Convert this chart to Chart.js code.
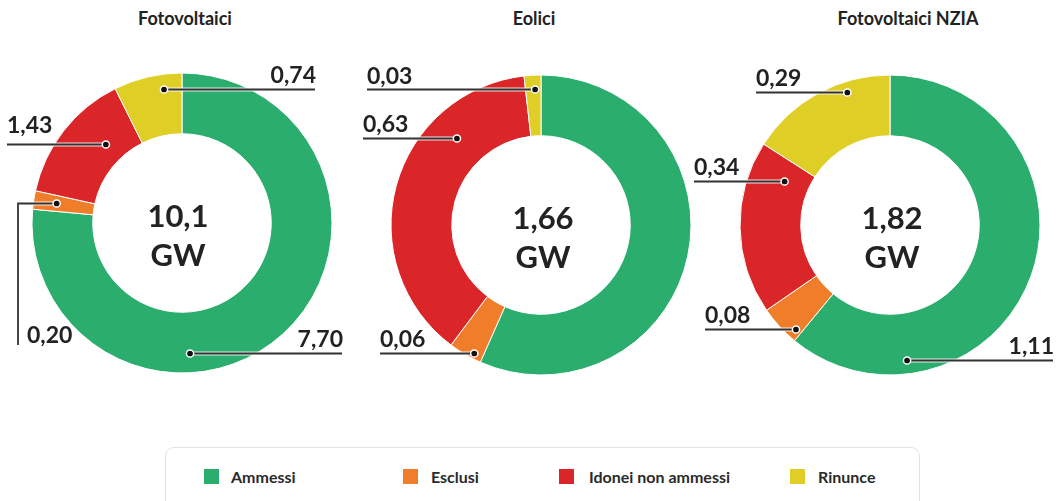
<!DOCTYPE html>
<html>
<head>
<meta charset="utf-8">
<script src="https://cdn.jsdelivr.net/npm/chart.js@4.4.1/dist/chart.umd.min.js"></script>
<style>
  html, body { margin: 0; padding: 0; background: #fff; }
  body { width: 1061px; height: 501px; position: relative; overflow: hidden; font-family: Lato, "Noto Sans", sans-serif; }
  .title { position: absolute; top: 7px; font: bold 18px Lato, sans-serif; color: #222; white-space: nowrap; transform: translateX(-50%); }
  .box { position: absolute; }
  .legend { position: absolute; left: 165px; top: 447px; width: 755px; height: 80px; border: 1px solid #e4e4e4; border-radius: 9px; box-sizing: border-box; }
  .li { position: absolute; top: 468px; height: 18px; font: bold 16px Lato, sans-serif; color: #2a2a2a; line-height: 18px; white-space: nowrap; }
  .sw { position: absolute; top: 469px; width: 15px; height: 15px; }
</style>
</head>
<body>
<div class="title" style="left:185px">Fotovoltaici</div>
<div class="title" style="left:534px">Eolici</div>
<div class="title" style="left:908px">Fotovoltaici NZIA</div>

<div class="box" id="b0" style="left:0px;top:40px;width:355px;height:370px"><canvas id="c0"></canvas></div>
<div class="box" id="b1" style="left:355px;top:40px;width:345px;height:370px"><canvas id="c1"></canvas></div>
<div class="box" id="b2" style="left:690px;top:40px;width:371px;height:370px"><canvas id="c2"></canvas></div>

<div class="legend"></div>
<div id="legendItems"></div>

<script>
// ---------- DATA ----------
const categories = ["Ammessi", "Esclusi", "Idonei non ammessi", "Rinunce"];
const chartTitles = ["Fotovoltaici", "Eolici", "Fotovoltaici NZIA"];
const fotovoltaici = [7.70, 0.20, 1.43, 0.74];
const eolici = [0.94, 0.06, 0.63, 0.03];
const fotovoltaiciNZIA = [1.11, 0.08, 0.34, 0.29];
const centerTotals = ["10,1", "1,66", "1,82"];
const centerUnit = "GW";
const showValue = [
  [true, true, true, true],
  [false, true, true, true],
  [true, true, true, true]
];

// ---------- STYLE / LAYOUT ----------
const colors = ["#2BAE6D", "#F07D2A", "#DA2629", "#DFCE26"];
const seriesList = [fotovoltaici, eolici, fotovoltaiciNZIA];
const boxes = [
  { left: 0, top: 40, w: 355, h: 370, cx: 182, cy: 223, textDx: -4 },
  { left: 355, top: 40, w: 345, h: 370, cx: 541, cy: 225, textDx: 2 },
  { left: 690, top: 40, w: 371, h: 370, cx: 890, cy: 225, textDx: 2 }
];
const R = 150;
// callout placement: t = fraction along arc, rf = fraction across ring, end = line end x relative to center
const callouts = [
  [
    { t: 0.641, rf: 0.67, end: 160, gap: 7 },
    { t: 0.52, rf: 0.62, end: -164, elbowTo: 122, textDx: 9, textY: 120 },
    { t: 0.66, rf: 0.34, end: -175, gap: 12 },
    { t: 0.71, rf: 0.75, end: 133, gap: 7 }
  ],
  [
    null,
    { t: 0.28, rf: 0.91, end: -161, gap: 7 },
    { t: 0.725, rf: 0.52, end: -178, gap: 7 },
    { t: 0.62, rf: 0.77, end: -174, gap: 6 }
  ],
  [
    { t: 0.787, rf: 0.77, end: 163, gap: 7 },
    { t: 0.16, rf: 0.84, end: -185, gap: 7 },
    { t: 0.85, rf: 0.41, end: -196, gap: 7 },
    { t: 0.69, rf: 0.83, end: -134, gap: 7 }
  ]
];
const legendSwatchX = [204, 403, 559, 790];
const legendTextX = [231, 431, 589, 818];

function fmt(v) { return v.toFixed(2).replace('.', ','); }

// legend (HTML built from categories)
const li = document.getElementById('legendItems');
categories.forEach((c, i) => {
  const s = document.createElement('div');
  s.className = 'sw';
  s.style.left = legendSwatchX[i] + 'px';
  s.style.background = colors[i];
  li.appendChild(s);
  const d = document.createElement('div');
  d.className = 'li';
  d.style.left = legendTextX[i] + 'px';
  d.textContent = c;
  li.appendChild(d);
});

const calloutPlugin = {
  id: 'callouts',
  afterDatasetsDraw(chart) {
    const idx = chart.options.plugins.callouts.idx;
    const ctx = chart.ctx;
    const meta = chart.getDatasetMeta(0);
    const data = chart.data.datasets[0].data;
    ctx.save();
    meta.data.forEach((arc, i) => {
      const spec = callouts[idx][i];
      if (!spec || !showValue[idx][i]) return;
      const p = arc.getProps(['x', 'y', 'startAngle', 'endAngle', 'innerRadius', 'outerRadius'], true);
      const a = p.startAngle + spec.t * (p.endAngle - p.startAngle);
      const r = p.innerRadius + spec.rf * (p.outerRadius - p.innerRadius);
      const dx = p.x + r * Math.cos(a);
      const dy = Math.round(p.y + r * Math.sin(a)) + 0.5;
      const ex = p.x + spec.end;
      const pts = [[dx, dy], [ex, dy]];
      if (spec.elbowTo !== undefined) pts.push([ex, p.y + spec.elbowTo]);
      ctx.lineJoin = 'miter';
      ctx.beginPath();
      pts.forEach((q, k) => k ? ctx.lineTo(q[0], q[1]) : ctx.moveTo(q[0], q[1]));
      ctx.strokeStyle = 'rgba(255,255,255,0.85)';
      ctx.lineWidth = 4;
      ctx.stroke();
      ctx.beginPath();
      pts.forEach((q, k) => k ? ctx.lineTo(q[0], q[1]) : ctx.moveTo(q[0], q[1]));
      ctx.strokeStyle = '#333';
      ctx.lineWidth = 1.8;
      ctx.stroke();
      ctx.beginPath();
      ctx.arc(dx, dy, 3.6, 0, Math.PI * 2);
      ctx.fillStyle = '#111';
      ctx.fill();
      ctx.lineWidth = 1.5;
      ctx.strokeStyle = '#fff';
      ctx.stroke();
      ctx.font = 'bold 23px Lato, sans-serif';
      ctx.fillStyle = '#222';
      ctx.textBaseline = 'alphabetic';
      const txt = fmt(data[i]);
      if (spec.elbowTo !== undefined) {
        ctx.textAlign = 'left';
        ctx.fillText(txt, ex + spec.textDx, p.y + spec.textY);
      } else if (spec.end > 0) {
        ctx.textAlign = 'right';
        ctx.fillText(txt, ex + 1, dy - spec.gap);
      } else {
        ctx.textAlign = 'left';
        ctx.fillText(txt, ex, dy - spec.gap);
      }
    });
    const c = meta.data[0];
    const tx = c.x + boxes[idx].textDx;
    ctx.font = 'bold 31px Lato, sans-serif';
    ctx.fillStyle = '#222';
    ctx.textAlign = 'center';
    ctx.textBaseline = 'alphabetic';
    ctx.fillText(centerTotals[idx], tx, c.y + 4);
    ctx.fillText(centerUnit, tx, c.y + 43);
    ctx.restore();
  }
};

function build() {
  seriesList.forEach((series, idx) => {
    const b = boxes[idx];
    const lcx = b.cx - b.left, lcy = b.cy - b.top;
    new Chart(document.getElementById('c' + idx), {
      type: 'doughnut',
      data: {
        labels: categories,
        datasets: [{
          label: chartTitles[idx],
          data: series,
          backgroundColor: colors,
          borderColor: '#ffffff',
          borderWidth: 1
        }]
      },
      options: {
        responsive: true,
        maintainAspectRatio: false,
        animation: false,
        events: [],
        radius: R,
        cutout: '59.5%',
        layout: {
          padding: {
            left: lcx - R,
            right: b.w - lcx - R,
            top: lcy - R,
            bottom: b.h - lcy - R
          }
        },
        plugins: {
          legend: { display: false },
          tooltip: { enabled: false },
          title: { display: false },
          callouts: { idx: idx }
        }
      },
      plugins: [calloutPlugin]
    });
  });
}

if (document.fonts && document.fonts.load) {
  Promise.all([
    document.fonts.load('bold 23px Lato'),
    document.fonts.load('bold 31px Lato')
  ]).then(build, build);
} else {
  build();
}
</script>
</body>
</html>
